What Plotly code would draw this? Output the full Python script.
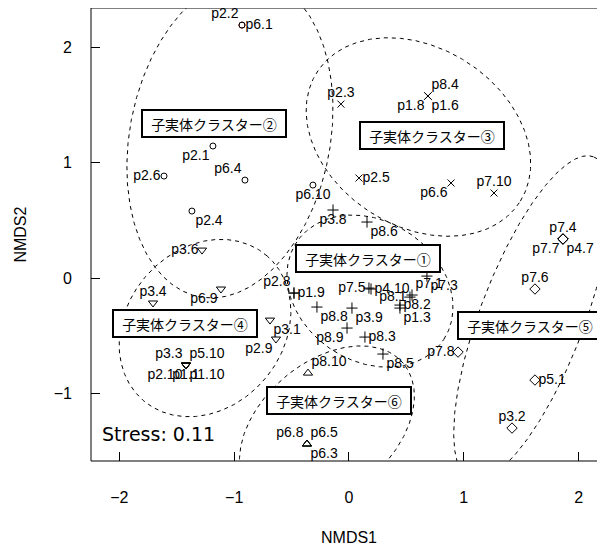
import numpy as np
import plotly.graph_objects as go

# ---------------- data ----------------
sample_names = [
    # cluster 2
    "p2.2", "p6.1", "p2.1", "p2.6", "p6.4", "p6.10", "p2.4",
    # cluster 3
    "p2.3", "p8.4", "p1.8", "p1.6", "p2.5", "p6.6", "p7.10",
    # cluster 1
    "p3.8", "p8.6", "p7.3", "p1.9", "p2.8", "p7.5", "p4.10", "p8.1", "p7.1",
    "p8.2", "p3.9", "p1.3", "p8.8", "p8.9", "p8.3", "p8.5",
    # cluster 4
    "p3.6", "p3.4", "p6.9", "p3.1", "p2.9", "p3.3", "p5.10", "p2.10", "p1.10", "p1.1",
    # cluster 6
    "p8.10", "p6.8", "p6.5", "p6.3",
    # cluster 5
    "p7.8", "p7.4", "p7.7", "p4.7", "p7.6", "p5.1", "p3.2",
]
nmds1 = [
    -0.932, -0.932, -1.185, -1.611, -0.906, -0.314, -1.368,
    -0.070, 0.688, 0.688, 0.688, 0.087, 0.889, 1.263,
    -0.139, 0.157, 0.679, -0.479, -0.479, 0.174, 0.192, 0.531, 0.549,
    0.444, 0.026, 0.444, -0.279, -0.017, 0.139, 0.296,
    -1.280, -1.707, -1.115, -0.688, -0.636, -1.420, -1.420, -1.420, -1.420, -1.420,
    -0.357, -0.366, -0.366, -0.366,
    0.950, 1.864, 1.864, 1.864, 1.620, 1.620, 1.420,
]
nmds2 = [
    2.190, 2.190, 1.143, 0.883, 0.848, 0.805, 0.580,
    1.506, 1.576, 1.576, 1.576, 0.866, 0.823, 0.736,
    0.589, 0.485, 0.017, -0.130, -0.130, -0.087, -0.095, -0.165, -0.147,
    -0.234, -0.260, -0.260, -0.251, -0.433, -0.511, -0.658,
    0.242, -0.216, -0.095, -0.364, -0.528, -0.753, -0.753, -0.753, -0.753, -0.753,
    -0.823, -1.437, -1.437, -1.437,
    -0.641, 0.338, 0.338, 0.338, -0.095, -0.883, -1.299,
]
cluster_id = (
    [2] * 7 + [3] * 7 + [1] * 16 + [4] * 10 + [6] * 4 + [5] * 7
)

cluster_labels = ["子実体クラスター①", "子実体クラスター②", "子実体クラスター③",
                  "子実体クラスター④", "子実体クラスター⑤", "子実体クラスター⑥"]

# ellipse parameters (centre, semi-axes, rotation) per cluster 1..6
ell_cx = [0.183, -1.037, 0.605, -1.254, 1.594, -0.192]
ell_cy = [-0.113, 1.212, 1.221, -0.433, -0.346, -1.299]
ell_a = [0.767, 1.40, 1.047, 0.826, 1.495, 0.87]
ell_b = [0.607, 0.873, 0.774, 0.683, 0.452, 0.574]
ell_deg = [-33, 79, -32, 49, 69, 40]

stress_text = "Stress: 0.11"
x_ticks = [-2, -1, 0, 1, 2]
y_ticks = [-1, 0, 1, 2]

# ---------------- styles ----------------
symbols = {1: "cross-thin-open", 2: "circle-open", 3: "x-thin-open",
           4: "triangle-down-open", 5: "diamond-open", 6: "triangle-up-open"}
sizes = {1: 8, 2: 6, 3: 7, 4: 8, 5: 8, 6: 8}
special_color = {"p2.2": "#8b0000", "p3.3": "#a0a000", "p6.8": "#006400"}

text_pos = {
    "p2.2": "top left", "p6.1": "middle right", "p2.1": "bottom left",
    "p2.6": "middle left", "p6.4": "top left", "p6.10": "bottom center",
    "p2.4": "bottom right",
    "p2.3": "top center", "p8.4": "top right", "p1.8": "bottom left",
    "p1.6": "bottom right", "p2.5": "middle right", "p6.6": "bottom left",
    "p7.10": "top center",
    "p3.8": "bottom center", "p8.6": "bottom right", "p7.3": "bottom right",
    "p1.9": "middle right", "p2.8": "top left", "p7.5": "middle left",
    "p4.10": "middle right", "p8.1": "middle left", "p7.1": "top right",
    "p8.2": "middle right", "p3.9": "bottom right", "p1.3": "bottom right",
    "p8.8": "bottom right", "p8.9": "bottom left", "p8.3": "middle right",
    "p8.5": "bottom right",
    "p3.6": "middle left", "p3.4": "top center", "p6.9": "bottom left",
    "p3.1": "bottom right", "p2.9": "bottom left", "p3.3": "top left",
    "p5.10": "top right", "p2.10": "bottom left", "p1.10": "bottom right",
    "p1.1": "bottom center",
    "p8.10": "top right", "p6.8": "top left", "p6.5": "top right",
    "p6.3": "bottom right",
    "p7.8": "middle left", "p7.4": "top center", "p7.7": "bottom left",
    "p4.7": "bottom right", "p7.6": "top center", "p5.1": "middle right",
    "p3.2": "top center",
}
label_box_pos = [(0.166, 0.169), (-1.176, 1.342), (0.723, 1.238),
                 (-1.429, -0.394), (1.581, -0.407), (-0.083, -1.056)]

LABEL_FONT = dict(family="Liberation Sans, Arial, sans-serif", size=14, color="black")
AX_FONT = dict(family="Liberation Sans, Arial, sans-serif", size=16, color="black")

fig = go.Figure()

# ellipses
t = np.linspace(0, 2 * np.pi, 500)
for i in range(6):
    th = np.deg2rad(ell_deg[i])
    ex = ell_cx[i] + ell_a[i] * np.cos(t) * np.cos(th) - ell_b[i] * np.sin(t) * np.sin(th)
    ey = ell_cy[i] + ell_a[i] * np.cos(t) * np.sin(th) + ell_b[i] * np.sin(t) * np.cos(th)
    fig.add_trace(go.Scatter(x=ex, y=ey, mode="lines", hoverinfo="skip",
                             line=dict(color="black", width=1, dash="4px,4px")))

# markers per cluster
for c in range(1, 7):
    idx = [i for i, k in enumerate(cluster_id) if k == c]
    cols = [special_color.get(sample_names[i], "black") for i in idx]
    fig.add_trace(go.Scatter(
        x=[nmds1[i] for i in idx], y=[nmds2[i] for i in idx], mode="markers",
        marker=dict(symbol=symbols[c], size=sizes[c], color=cols,
                    line=dict(color=cols, width=1)),
        hovertext=[sample_names[i] for i in idx], hoverinfo="text"))

# labels grouped by position
for pos in sorted(set(text_pos.values())):
    idx = [i for i, n in enumerate(sample_names) if text_pos[n] == pos]
    fig.add_trace(go.Scatter(
        x=[nmds1[i] for i in idx], y=[nmds2[i] for i in idx], mode="markers+text",
        text=[sample_names[i] for i in idx], textposition=pos,
        textfont=LABEL_FONT, hoverinfo="skip", cliponaxis=False,
        marker=dict(size=4, color="rgba(0,0,0,0)")))

# cluster name boxes
for (bx, by), txt in zip(label_box_pos, cluster_labels):
    fig.add_annotation(x=bx, y=by, text=txt, showarrow=False,
                       font=dict(family="Noto Sans CJK JP", size=14, color="black"),
                       bgcolor="white", bordercolor="black", borderwidth=2,
                       borderpad=2, width=138, height=21)

fig.add_annotation(x=-2.17, y=-1.351, text=stress_text, showarrow=False,
                   xanchor="left", yanchor="middle",
                   font=dict(family="DejaVu Sans", size=19, color="black"))

# axis titles
fig.add_annotation(x=0, xref="x", y=-0.168, yref="paper", text="NMDS1",
                   showarrow=False, font=AX_FONT, yanchor="middle")
fig.add_annotation(x=-0.138, xref="paper", y=0.5, yref="paper", text="NMDS2",
                   showarrow=False, font=AX_FONT, textangle=-90, xanchor="center")

# frame
fig.add_shape(type="rect", xref="paper", yref="paper", x0=0, x1=1.02, y0=0, y1=1,
              line=dict(color="black", width=1), layer="above")

# page body has an 8px margin, so the figure is 8px smaller and starts at (8, 8)
fig.update_layout(
    width=597, height=542, showlegend=False,
    margin=dict(l=83, r=0, t=0, b=89),
    paper_bgcolor="white", plot_bgcolor="white",
    xaxis=dict(range=[-2.247, 2.230], tickvals=x_ticks, ticks="inside", ticklen=9,
               tickcolor="black", showgrid=False, zeroline=False, showline=False,
               tickfont=AX_FONT, ticklabelstandoff=25),
    yaxis=dict(range=[-1.584, 2.338], tickvals=y_ticks, ticks="inside", ticklen=9,
               tickcolor="black", showgrid=False, zeroline=False, showline=False,
               tickfont=AX_FONT, ticklabelstandoff=18),
)

fig.write_html("out.html")
